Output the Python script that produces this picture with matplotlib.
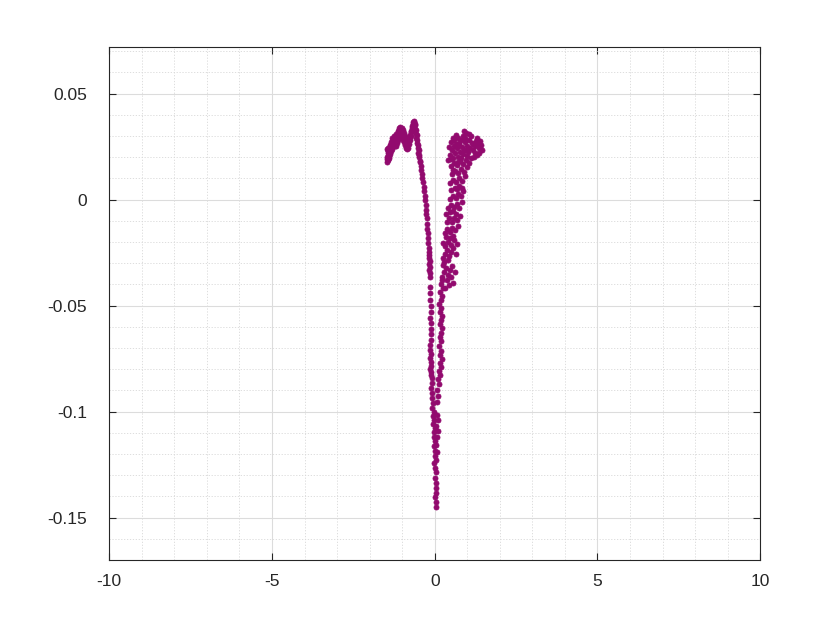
import matplotlib
matplotlib.use("Agg")
import matplotlib.pyplot as plt
from matplotlib.ticker import MultipleLocator, FuncFormatter

# Linker Ast: das "M" oben und die lange Linie nach unten
m_x = [-1.46, -1.45, -1.44, -1.42, -1.39, -1.36, -1.33, -1.30, -1.27, -1.24, -1.21, -1.18, -1.15, -1.12, -1.09, -1.06,
       -1.47, -1.44, -1.41, -1.38, -1.35, -1.32, -1.29, -1.26, -1.23, -1.20, -1.17, -1.14, -1.11, -1.08, -1.05,
       -1.45, -1.42, -1.38, -1.34, -1.30, -1.26, -1.22, -1.18, -1.14, -1.10, -1.06,
       -1.47, -1.46, -1.44, -1.40,
       -1.03, -1.00, -0.97, -0.94, -0.91, -0.88, -0.85,
       -1.02, -0.99, -0.96, -0.93, -0.90, -0.87, -0.84,
       -1.01, -0.98, -0.95, -0.92, -0.89, -0.86,
       -0.82, -0.79, -0.76, -0.73, -0.70, -0.67, -0.65,
       -0.81, -0.78, -0.75, -0.72, -0.69, -0.66,
       -0.80, -0.77, -0.74, -0.71, -0.68, -0.64,
       -0.62, -0.60, -0.58, -0.56, -0.54, -0.52, -0.50, -0.48, -0.46,
       -0.59, -0.57, -0.55, -0.53, -0.51, -0.49, -0.47]
m_y = [0.0190, 0.0205, 0.0220, 0.0232, 0.0240, 0.0252, 0.0262, 0.0275, 0.0285, 0.0278, 0.0275, 0.0290, 0.0305, 0.0318, 0.0328, 0.0334,
       0.0180, 0.0190, 0.0205, 0.0215, 0.0228, 0.0240, 0.0252, 0.0262, 0.0255, 0.0252, 0.0268, 0.0283, 0.0296, 0.0305, 0.0310,
       0.0228, 0.0245, 0.0258, 0.0270, 0.0292, 0.0302, 0.0296, 0.0308, 0.0325, 0.0336, 0.0345,
       0.0200, 0.0240, 0.0185, 0.0195,
       0.0330, 0.0318, 0.0305, 0.0290, 0.0278, 0.0265, 0.0255,
       0.0308, 0.0295, 0.0282, 0.0270, 0.0258, 0.0245, 0.0238,
       0.0340, 0.0328, 0.0315, 0.0302, 0.0290, 0.0278,
       0.0262, 0.0280, 0.0300, 0.0320, 0.0340, 0.0358, 0.0365,
       0.0245, 0.0262, 0.0282, 0.0302, 0.0322, 0.0340,
       0.0285, 0.0305, 0.0325, 0.0348, 0.0368, 0.0372,
       0.0355, 0.0335, 0.0312, 0.0290, 0.0268, 0.0245, 0.0222, 0.0200, 0.0182,
       0.0352, 0.0330, 0.0305, 0.0282, 0.0258, 0.0235, 0.0210]

stem_x = [-0.462, -0.431, -0.431, -0.400, -0.400, -0.369, -0.338, -0.338, -0.308, -0.308, -0.277, -0.277, -0.277,
          -0.246, -0.246, -0.246, -0.215, -0.215, -0.215, -0.185, -0.185, -0.185, -0.169, -0.154, -0.185, -0.154,
          -0.185, -0.154, -0.154, -0.154, -0.154, -0.154, -0.123, -0.123, -0.154, -0.123, -0.123, -0.123, -0.123,
          -0.154, -0.154, -0.123, -0.154, -0.123, -0.123, -0.154, -0.123, -0.123, -0.092, -0.092, -0.123, -0.092,
          -0.092, -0.062, -0.092, -0.031, -0.062, -0.031, -0.062, 0.000, -0.031, -0.031, 0.000, -0.031, 0.000,
          0.000, -0.031, 0.000, 0.031, 0.000, 0.031, 0.031, 0.031, 0.000, 0.031, 0.031]
stem_y = [0.0179, 0.0160, 0.0142, 0.0123, 0.0104, 0.0085, 0.0061, 0.0042, 0.0019, 0.0000, -0.0024, -0.0047, -0.0066,
          -0.0085, -0.0113, -0.0137, -0.0156, -0.0179, -0.0203, -0.0226, -0.0245, -0.0259, -0.0274, -0.0288, -0.0302, -0.0316,
          -0.0330, -0.0344, -0.0363, -0.0410, -0.0439, -0.0472, -0.0500, -0.0528, -0.0557, -0.0580, -0.0608, -0.0632, -0.0660,
          -0.0684, -0.0708, -0.0726, -0.0745, -0.0764, -0.0783, -0.0797, -0.0811, -0.0825, -0.0840, -0.0863, -0.0887, -0.0910,
          -0.0934, -0.0958, -0.0981, -0.1000, -0.1019, -0.1038, -0.1057, -0.1075, -0.1094, -0.1118, -0.1137, -0.1160, -0.1184,
          -0.1208, -0.1241, -0.1264, -0.1283, -0.1311, -0.1335, -0.1358, -0.1382, -0.1401, -0.1425, -0.1448]

# Rechter Ast: schmale Spalte unten, breite Wolke oben
col_x = [0.215, 0.185, 0.246, 0.154, 0.215, 0.185, 0.123, 0.185, 0.154, 0.215, 0.185, 0.154, 0.215, 0.185, 0.154,
         0.185, 0.123, 0.185, 0.154, 0.215, 0.154, 0.185, 0.123, 0.154, 0.092, 0.123, 0.062, 0.092, 0.062, 0.062,
         0.092, 0.031, 0.092, 0.062, 0.031, 0.062, 0.031]
col_y = [-0.0377, -0.0396, -0.0415, -0.0434, -0.0453, -0.0472, -0.0491, -0.0509, -0.0528, -0.0547, -0.0566, -0.0585,
         -0.0604, -0.0627, -0.0646, -0.0665, -0.0689, -0.0712, -0.0731, -0.0750, -0.0769, -0.0788, -0.0807, -0.0825,
         -0.0844, -0.0868, -0.0896, -0.0925, -0.0953, -0.1014, -0.1038, -0.1066, -0.1090, -0.1118, -0.1156, -0.1189, -0.1226]

cloud_x = [0.215, 0.277, 0.338, 0.400, 0.462, 0.523, 0.277, 0.369, 0.554, 0.431, 0.308, 0.246, 0.492, 0.615, 0.400,
           0.246, 0.308, 0.369, 0.431, 0.492, 0.554, 0.646, 0.308, 0.400, 0.492, 0.585, 0.246, 0.338, 0.462, 0.554, 0.677,
           0.308, 0.369, 0.462, 0.523, 0.615, 0.708, 0.369, 0.431, 0.523, 0.585, 0.677, 0.769, 0.338, 0.462, 0.554, 0.646,
           0.400, 0.492, 0.585, 0.677, 0.738, 0.831, 0.462, 0.554, 0.646, 0.708, 0.800, 0.862, 0.492, 0.615, 0.738, 0.831,
           0.462, 0.554, 0.646, 0.738, 0.831, 0.923, 0.523, 0.615, 0.708, 0.800, 0.892, 0.985, 0.492, 0.585, 0.677, 0.769,
           0.862, 0.954, 1.046, 1.108,
           0.462, 0.523, 0.585, 0.492, 0.554, 0.646, 0.615, 0.677, 0.738, 0.708, 0.800, 0.769, 0.831, 0.892, 0.862, 0.954,
           0.923, 0.985, 1.046, 1.015, 1.077, 1.138, 1.108, 1.169, 1.231, 1.262, 1.292, 1.323, 1.354, 1.385, 1.415, 1.446,
           1.354, 1.292, 1.200, 0.985, 0.800, 0.708, 0.892, 1.046, 0.554, 0.646,
           0.430, 0.500, 0.600, 0.760, 0.930, 1.180, 1.400, 1.330, 0.880, 0.720, 0.560, 0.410, 0.680, 0.990, 1.250]
cloud_y = [-0.0363, -0.0340, -0.0321, -0.0354, -0.0330, -0.0311, -0.0292, -0.0377, -0.0392, -0.0401, -0.0415, -0.0307,
           -0.0363, -0.0340, -0.0283,
           -0.0274, -0.0255, -0.0236, -0.0264, -0.0245, -0.0226, -0.0255, -0.0217, -0.0198, -0.0212, -0.0189, -0.0203,
           -0.0175, -0.0179, -0.0170, -0.0208,
           -0.0156, -0.0137, -0.0151, -0.0132, -0.0142, -0.0123, -0.0104, -0.0085, -0.0104, -0.0085, -0.0094, -0.0075,
           -0.0066, -0.0057, -0.0052, -0.0066,
           -0.0038, -0.0024, -0.0033, -0.0019, -0.0038, -0.0009, 0.0005, 0.0019, 0.0009, 0.0028, 0.0019, 0.0042,
           0.0047, 0.0057, 0.0066, 0.0057,
           0.0080, 0.0094, 0.0085, 0.0104, 0.0090, 0.0113, 0.0123, 0.0137, 0.0127, 0.0146, 0.0132, 0.0156, 0.0160,
           0.0175, 0.0165, 0.0184, 0.0170, 0.0189, 0.0175, 0.0198,
           0.0212, 0.0236, 0.0255, 0.0274, 0.0292, 0.0307, 0.0222, 0.0245, 0.0269, 0.0292, 0.0283, 0.0226, 0.0250,
           0.0236, 0.0302, 0.0316, 0.0274, 0.0255, 0.0283, 0.0226, 0.0245, 0.0269, 0.0302, 0.0236, 0.0255, 0.0278,
           0.0292, 0.0264, 0.0245, 0.0278, 0.0259, 0.0236, 0.0222, 0.0212, 0.0203, 0.0208, 0.0198, 0.0203, 0.0325,
           0.0311, 0.0198, 0.0264,
           0.0250, 0.0190, 0.0280, 0.0260, 0.0290, 0.0265, 0.0245, 0.0275, 0.0215, 0.0180, 0.0140, 0.0185, 0.0050,
           0.0235, 0.0220]

x_ticks = [-10, -5, 0, 5, 10]
y_ticks = [-0.15, -0.1, -0.05, 0, 0.05]

farbe = '#920a6e'
dunkel = '#262626'

plt.rcParams['font.family'] = ['Liberation Sans', 'DejaVu Sans']
plt.rcParams['axes.unicode_minus'] = False

fig = plt.figure(figsize=(8.4, 6.3), dpi=100)
ax = fig.add_axes([0.13, 0.111, 0.775, 0.815])

for xs, ys in [(m_x, m_y), (stem_x, stem_y), (col_x, col_y), (cloud_x, cloud_y)]:
    ax.scatter(xs, ys, s=13, color=farbe, edgecolors=farbe, linewidths=0.6, zorder=3)

ax.set_xlim(-10, 10)
ax.set_ylim(-0.17, 0.0722)
ax.set_xticks(x_ticks)
ax.set_yticks(y_ticks)
ax.xaxis.set_minor_locator(MultipleLocator(1))
ax.yaxis.set_minor_locator(MultipleLocator(0.01))
fmt = FuncFormatter(lambda v, p: '%g' % round(v, 4))
ax.xaxis.set_major_formatter(fmt)
ax.yaxis.set_major_formatter(fmt)

ax.grid(True, which='major', color='#dcdcdc', linewidth=0.8, zorder=0)
ax.grid(True, which='minor', color='#d8d8d8', linewidth=0.6, linestyle=(0, (1.5, 2)), zorder=0)
ax.set_axisbelow(True)

ax.tick_params(which='major', direction='in', length=5, width=0.8, color=dunkel,
               labelsize=12.5, labelcolor=dunkel, top=True, right=True)
ax.tick_params(which='minor', length=0, top=True, right=True)
ax.tick_params(axis='x', pad=10)
ax.tick_params(axis='y', pad=16)
for sp in ax.spines.values():
    sp.set_color(dunkel)
    sp.set_linewidth(0.8)

fig.savefig('out.png', dpi=100)
